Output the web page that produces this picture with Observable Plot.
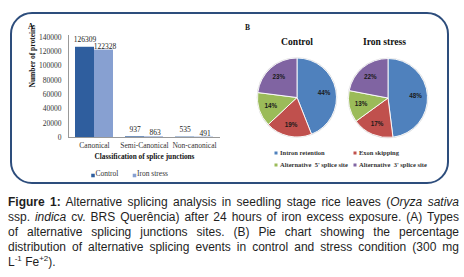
<!DOCTYPE html>
<html><head><meta charset="utf-8">
<script src="https://cdn.jsdelivr.net/npm/d3@7"></script>
<script src="https://cdn.jsdelivr.net/npm/@observablehq/plot@0.6"></script>
<style>
body{margin:0;background:#fff;}
#wrap{position:relative;width:464px;height:277px;overflow:hidden;background:#fff;}
#chart{position:absolute;left:0;top:0;}
#frame{position:absolute;left:9.5px;top:12px;width:439.5px;height:172px;box-sizing:border-box;border:2px solid #2d4d7c;border-radius:22px;pointer-events:none;z-index:2;}
#lblA{position:absolute;left:28px;top:22px;font:bold 7.5px 'Liberation Serif','Times New Roman',serif;color:#111;z-index:2;}
#cap{position:absolute;left:8px;top:195px;width:451px;font-family:"Liberation Sans",Arial,sans-serif;font-size:12px;line-height:15px;color:#1e1e1e;}
#cap .l{white-space:nowrap;}
#cap .j{text-align:justify;text-align-last:justify;}
#cap sup{font-size:8px;line-height:0;vertical-align:5px;}
</style></head>
<body><div id="wrap">
<div id="chart"></div>
<div id="frame"></div>
<div id="lblA">A</div>
<div id="cap">
<div class="l j"><b>Figure 1:</b> Alternative splicing analysis in seedling stage rice leaves (<i>Oryza sativa</i></div>
<div class="l j">ssp. <i>indica</i> cv. BRS Querência) after 24 hours of iron excess exposure. (A) Types</div>
<div class="l j">of alternative splicing junctions sites. (B) Pie chart showing the percentage</div>
<div class="l j">distribution of alternative splicing events in control and stress condition (300 mg</div>
<div class="l">L<sup>-1</sup> Fe<sup>+2</sup>).</div>
</div>
</div>
<script>
// ---- data ----
const categories = ["Canonical", "Semi-Canonical", "Non-canonical"];
const seriesNames = ["Control", "Iron stress"];
const controlCounts = [126309, 937, 535];
const ironCounts = [122328, 863, 491];
const yTicks = [0, 20000, 40000, 60000, 80000, 100000, 120000, 140000];
const eventNames = ["Intron retention", "Exon skipping", "Alternative  5' splice site", "Alternative  3' splice site"];
const pieGroups = ["Control", "Iron stress"];
const controlPct = [44, 19, 14, 23];
const ironPct = [48, 17, 13, 22];
const barColors = ["#2f5e9e", "#87a0d1"];
const pieColors = ["#4f81bd", "#c0504d", "#9bbb59", "#8064a2"];

const serif = "'Liberation Serif','Times New Roman',serif";
const sans = "'Liberation Sans',Arial,sans-serif";

const rows = categories.flatMap((c, i) => [
  {category: c, series: seriesNames[0], value: controlCounts[i]},
  {category: c, series: seriesNames[1], value: ironCounts[i]}
]);

const leftLine = (index, scales, values, dims) => {
  const l = d3.create("svg:line")
    .attr("x1", dims.marginLeft + 0.5).attr("x2", dims.marginLeft + 0.5)
    .attr("y1", dims.marginTop - 2).attr("y2", dims.height - dims.marginBottom)
    .attr("stroke", "#999");
  return l.node();
};

const color = Plot.scale({color: {type: "ordinal", domain: eventNames, range: pieColors}});
const pieSpecs = [
  {title: pieGroups[0], values: controlPct, cx: 65, cy: 97.5, tx: 65},
  {title: pieGroups[1], values: ironPct, cx: 156, cy: 98, tx: 152.5}
];
const piesMark = (index, scales, values, dims) => {
  const g = d3.create("svg:g").attr("transform", "translate(232,0)");
  const r = 39.5;
  const arc = d3.arc().innerRadius(0).outerRadius(r);
  const labelArc = d3.arc().innerRadius(r * 0.7).outerRadius(r * 0.7);
  for (const p of pieSpecs) {
    const arcs = d3.pie().sort(null)(p.values);
    const pg = g.append("g").attr("transform", `translate(${p.cx},${p.cy})`);
    pg.append("circle").attr("r", r + 0.8).attr("fill", "#d8d8d8");
    pg.selectAll("path").data(arcs).join("path")
      .attr("d", arc).attr("fill", (d, i) => color.apply(eventNames[i]))
      .attr("stroke", "#fff").attr("stroke-width", 0.9);
    pg.selectAll("text").data(arcs).join("text")
      .attr("transform", d => `translate(${labelArc.centroid(d)})`)
      .attr("text-anchor", "middle").attr("dy", "0.35em")
      .attr("font-family", sans).attr("font-weight", "bold").attr("font-size", 6.3).attr("fill", "#1a1a1a")
      .text(d => d.data + "%");
    g.append("text").attr("x", p.tx).attr("y", 42).attr("dy", "0.35em").attr("text-anchor", "middle")
      .attr("font-family", serif).attr("font-weight", "bold").attr("font-size", 9.6).attr("fill", "#111")
      .text(p.title);
  }
  g.append("text").attr("x", 13).attr("y", 27).attr("dy", "0.35em").attr("text-anchor", "start")
    .attr("font-family", serif).attr("font-weight", "bold").attr("font-size", 7.5).attr("fill", "#111").text("B");
  const pos = [[44, 153], [123, 153], [44, 165], [123, 165]];
  eventNames.forEach((e, i) => {
    g.append("rect").attr("x", pos[i][0] - 1.5).attr("y", pos[i][1] - 1.5).attr("width", 3).attr("height", 3).attr("fill", color.apply(e));
    g.append("text").attr("x", pos[i][0] + 4).attr("y", pos[i][1]).attr("dy", "0.35em").attr("text-anchor", "start")
      .attr("font-family", serif).attr("font-weight", "bold").attr("font-size", 6.5).attr("fill", "#333")
      .style("white-space", "pre").text(e);
  });
  return g.node();
};

const half = 19;
const chart = Plot.plot({
  width: 464, height: 185,
  marginLeft: 68, marginRight: 244, marginTop: 37, marginBottom: 48,
  style: {fontFamily: serif, fontSize: "7.5px", color: "#333", background: "white"},
  x: {domain: categories, paddingInner: 0.25, paddingOuter: 0.125, axis: null},
  y: {domain: [0, 140000], axis: null},
  marks: [
    Plot.axisY({ticks: yTicks, tickSize: 0, tickPadding: 7, tickFormat: d3.format("d"), label: null, fill: "#333"}),
    Plot.axisX({tickSize: 0, tickPadding: 5, label: null, fill: "#333"}),
    Plot.barY(rows.filter(d => d.series === seriesNames[0]), {x: "category", y: "value", fill: barColors[0], insetRight: half}),
    Plot.barY(rows.filter(d => d.series === seriesNames[1]), {x: "category", y: "value", fill: barColors[1], insetLeft: half}),
    Plot.ruleY([0], {stroke: "#999"}),
    leftLine,
    Plot.text(rows.filter(d => d.series === seriesNames[0]), {x: "category", y: "value", text: d => String(d.value), dx: -9.5, dy: -5, lineAnchor: "bottom", fill: "#222"}),
    Plot.text(rows.filter(d => d.series === seriesNames[1]), {x: "category", y: "value", text: d => String(d.value), dx: 10.5, dy: -1.5, lineAnchor: "bottom", fill: "#222"}),
    Plot.text(["Classification of splice junctions"], {frameAnchor: "bottom", dy: 21, fontWeight: "bold", fontSize: 7.3, fill: "#111"}),
    Plot.text(["Number of proteins"], {frameAnchor: "left", dx: -36, rotate: -90, fontWeight: "bold", fontSize: 7.5, fill: "#111"}),
    Plot.dot([seriesNames[0]], {frameAnchor: "bottom", dx: -51.5, dy: 38, symbol: "square", r: 2, fill: barColors[0], stroke: null}),
    Plot.text([seriesNames[0]], {frameAnchor: "bottom", dx: -49, dy: 38, textAnchor: "start", fill: "#333"}),
    Plot.dot([seriesNames[1]], {frameAnchor: "bottom", dx: -10, dy: 38, symbol: "square", r: 2, fill: barColors[1], stroke: null}),
    Plot.text([seriesNames[1]], {frameAnchor: "bottom", dx: -7.5, dy: 38, textAnchor: "start", fill: "#333"}),
    piesMark
  ]
});
document.getElementById("chart").append(chart);
</script>
</body></html>
